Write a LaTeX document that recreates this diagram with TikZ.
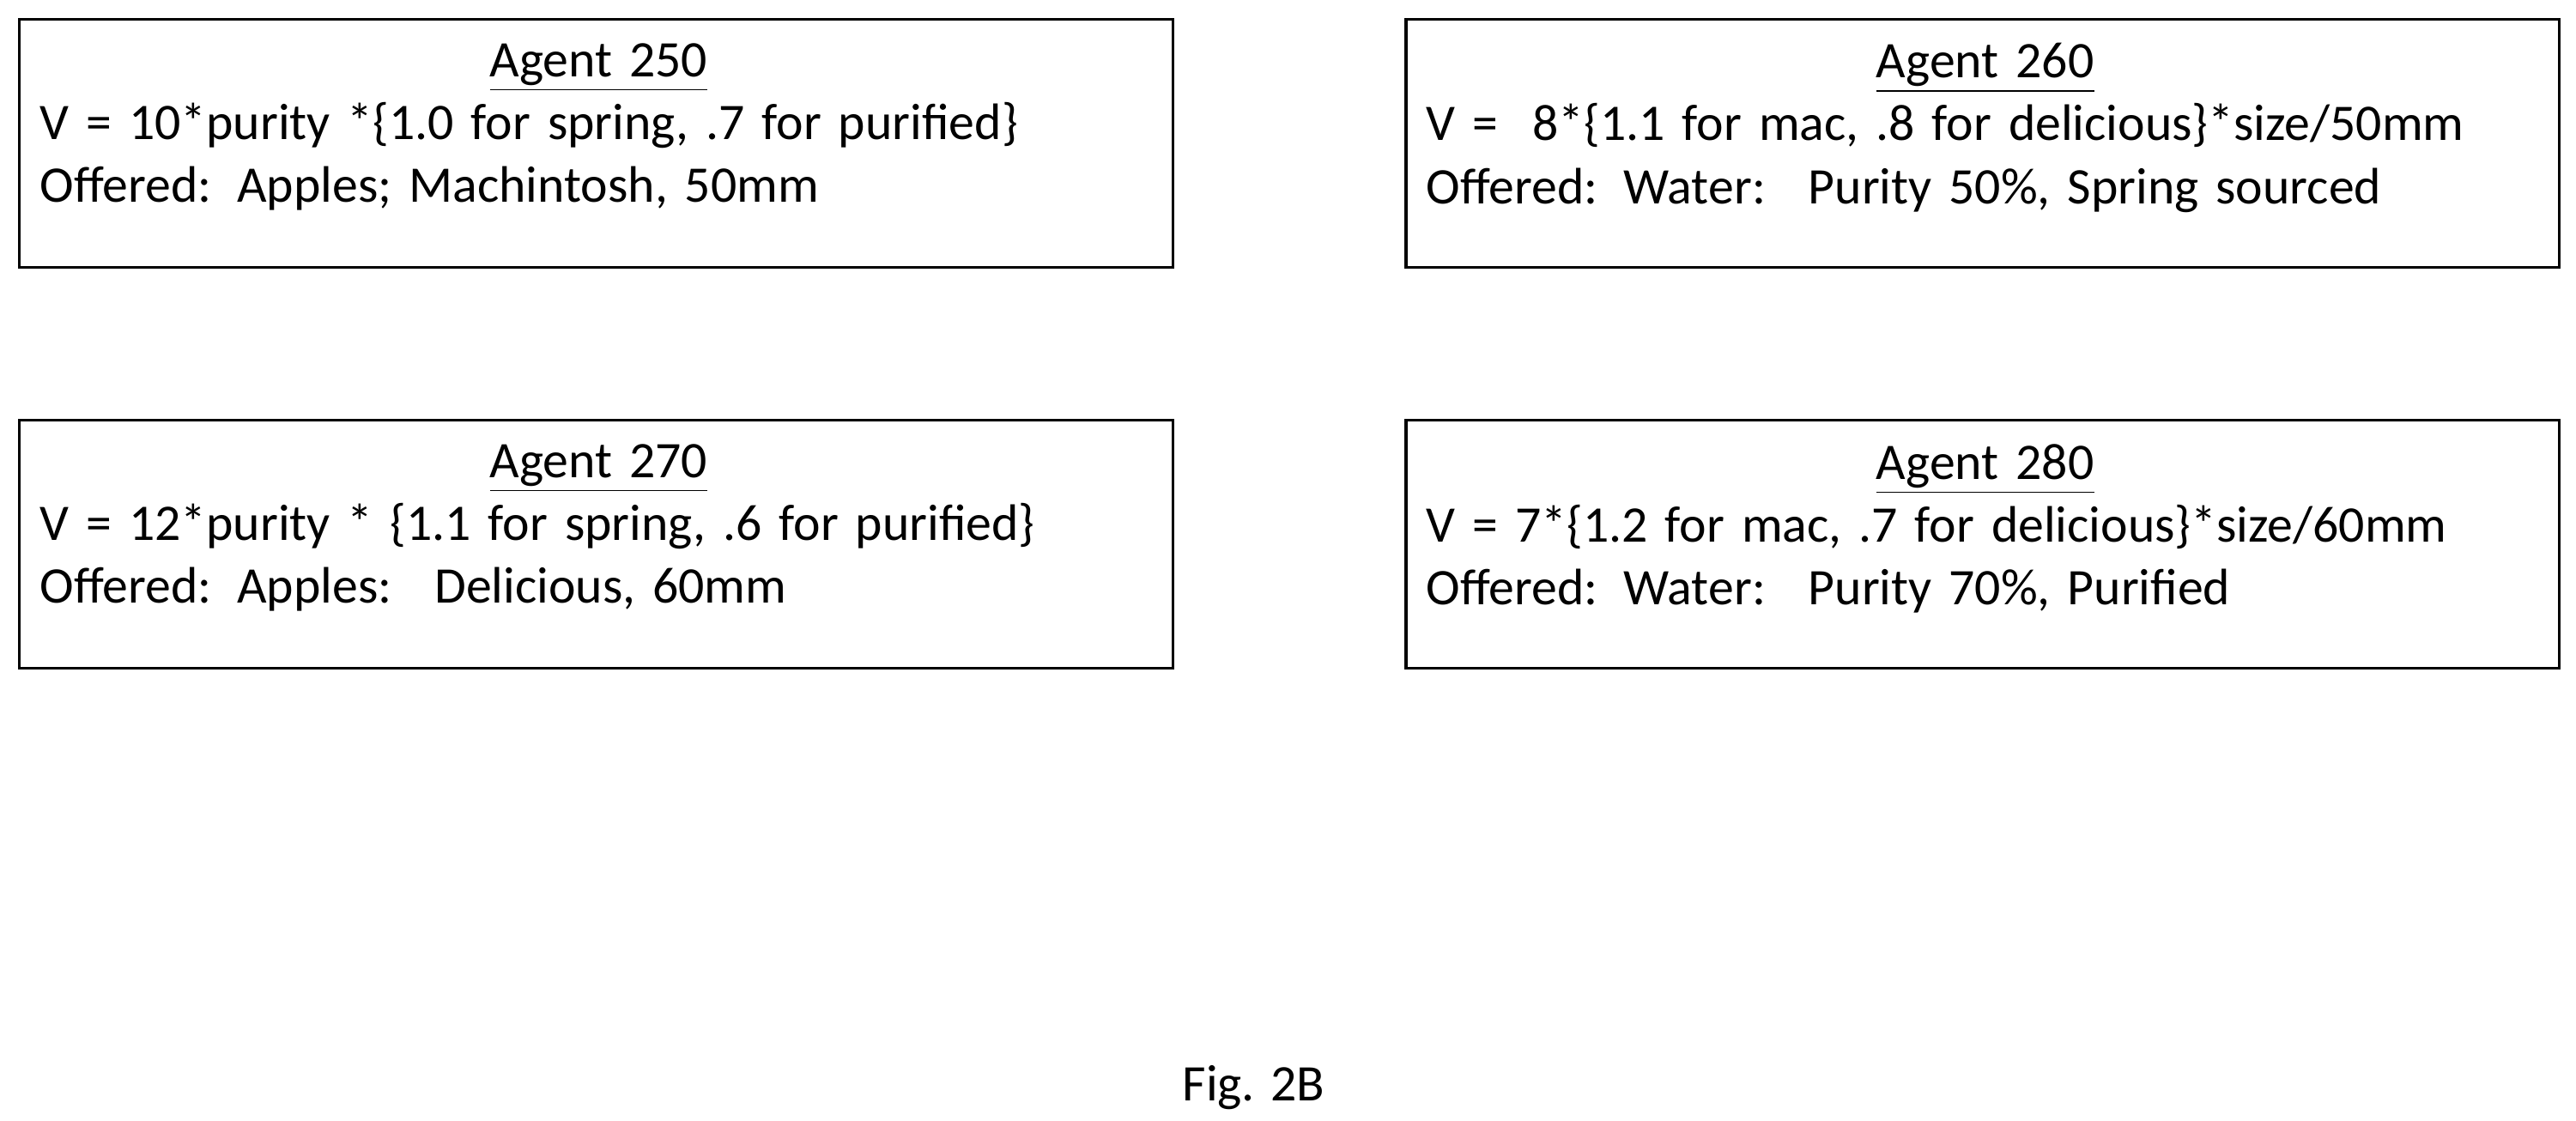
\documentclass[tikz,border=0pt]{standalone}
\usepackage{fontspec}
\setmainfont{Carlito}
\usepackage{tikz}
\usetikzlibrary{positioning}

\begin{document}
\begin{tikzpicture}[
        x=0.01914cm,y=-0.01914cm,
        agentbox/.style={
          draw,
          line width=0.9pt,
          minimum width=702*0.01914cm,
          minimum height=151*0.01914cm,
          anchor=north west
        },
        agenttext/.style={
          anchor=north west,
          inner sep=0pt,
          text width=680*0.01914cm,
          font=\fontsize{17}{20.8}\selectfont
        }
        ]
        \useasboundingbox (0,0) rectangle (1568,682);
        \node[agentbox] (a250) at (11,11) {};
        \node[agentbox] (a260) at (855,11) {};
        \node[agentbox] (a270) at (11,255) {};
        \node[agentbox] (a280) at (855,255) {};

        \node[agenttext] (t250) at ([xshift=13*0.01914cm,yshift=-15*0.01914cm]a250.north west)
          {{\centering\underline{Agent 250}\par}
           V = 10*purity *\{1.0 for spring, .7 for purified\}\\
           Offered: Apples; Machintosh, 50mm};
        \node[agenttext] (t260) at ([xshift=13*0.01914cm,yshift=-15*0.01914cm]a260.north west)
          {{\centering\underline{Agent 260}\par}
           V = \ 8*\{1.1 for mac, .8 for delicious\}*size/50mm\\
           Offered: Water: \ Purity 50\%, Spring sourced};
        \node[agenttext] (t270) at ([xshift=13*0.01914cm,yshift=-15*0.01914cm]a270.north west)
          {{\centering\underline{Agent 270}\par}
           V = 12*purity * \{1.1 for spring, .6 for purified\}\\
           Offered: Apples: \ Delicious, 60mm};
        \node[agenttext] (t280) at ([xshift=13*0.01914cm,yshift=-15*0.01914cm]a280.north west)
          {{\centering\underline{Agent 280}\par}
           V = 7*\{1.2 for mac, .7 for delicious\}*size/60mm\\
           Offered: Water: \ Purity 70\%, Purified};

        \node[font=\fontsize{17}{20.8}\selectfont] (fig) at (763,662) {Fig. 2B};
    \end{tikzpicture}
\end{document}
